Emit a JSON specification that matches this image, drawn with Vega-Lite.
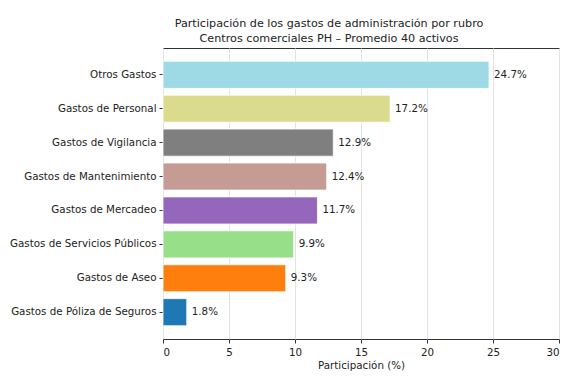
{
  "$schema": "https://vega.github.io/schema/vega-lite/v6.json",
  "autosize": "none",
  "width": 396,
  "height": 291,
  "padding": {"left": 163, "top": 48, "right": 15, "bottom": 45},
  "background": "white",
  "config": {
    "font": "DejaVu Sans",
    "view": {"stroke": "#333333", "strokeWidth": 1}
  },
  "title": {
    "text": ["Participación de los gastos de administración por rubro", "Centros comerciales PH – Promedio 40 activos"],
    "fontSize": 11.2,
    "fontWeight": "normal",
    "color": "#222222",
    "anchor": "middle",
    "dx": -32,
    "offset": 4,
    "lineHeight": 15
  },
  "data": {
    "values": [
      {"rubro": "Otros Gastos", "pct": 24.7, "color": "#9edae5"},
      {"rubro": "Gastos de Personal", "pct": 17.2, "color": "#dbdb8d"},
      {"rubro": "Gastos de Vigilancia", "pct": 12.9, "color": "#7f7f7f"},
      {"rubro": "Gastos de Mantenimiento", "pct": 12.4, "color": "#c49c94"},
      {"rubro": "Gastos de Mercadeo", "pct": 11.7, "color": "#9467bd"},
      {"rubro": "Gastos de Servicios Públicos", "pct": 9.9, "color": "#98df8a"},
      {"rubro": "Gastos de Aseo", "pct": 9.3, "color": "#ff7f0e"},
      {"rubro": "Gastos de Póliza de Seguros", "pct": 1.8, "color": "#1f77b4"}
    ]
  },
  "encoding": {
    "y": {
      "field": "rubro",
      "type": "nominal",
      "sort": null,
      "scale": {"paddingInner": 0.2, "paddingOuter": 0.39},
      "axis": {
        "title": null,
        "labelFontSize": 10.3,
        "labelColor": "#222222",
        "tickSize": 4,
        "tickColor": "#333333",
        "labelPadding": 3,
        "domain": false,
        "grid": false
      }
    }
  },
  "layer": [
    {
      "mark": {"type": "bar", "stroke": "white", "strokeWidth": 0.8},
      "encoding": {
        "x": {
          "field": "pct",
          "type": "quantitative",
          "scale": {"domain": [0, 30], "nice": false},
          "axis": {
            "title": "Participación (%)",
            "titleFontSize": 10.3,
            "titleFontWeight": "normal",
            "titleColor": "#222222",
            "titlePadding": 3,
            "labelFontSize": 10.3,
            "labelColor": "#222222",
            "values": [0, 5, 10, 15, 20, 25, 30],
            "tickSize": 4,
            "tickColor": "#333333",
            "domain": false,
            "grid": true,
            "gridColor": "#e3e3e3",
            "gridWidth": 1,
            "labelPadding": 4
          }
        },
        "color": {"field": "color", "type": "nominal", "scale": null, "legend": null}
      }
    },
    {
      "mark": {"type": "text", "align": "left", "baseline": "middle", "dx": 5, "fontSize": 10.3, "color": "#222222", "text": {"expr": "format(datum.pct, '.1f') + '%'"}},
      "encoding": {
        "x": {"field": "pct", "type": "quantitative"}
      }
    }
  ]
}
